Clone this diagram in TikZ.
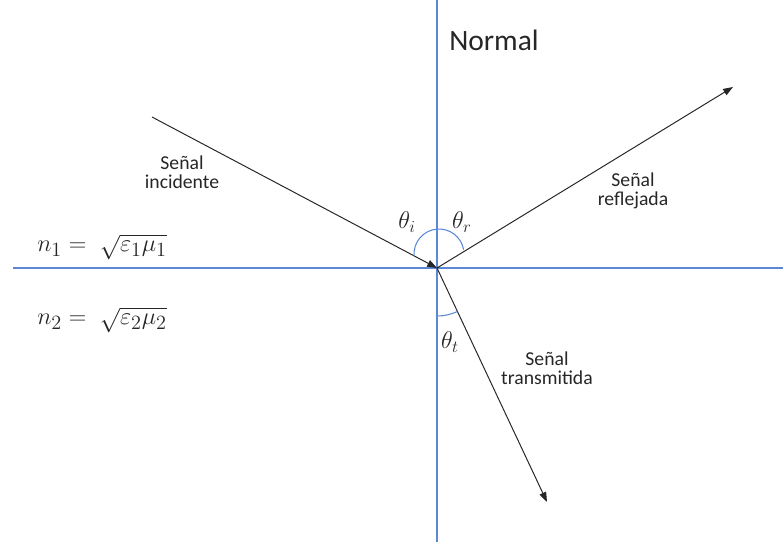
\documentclass[tikz,border=0pt]{standalone}
\usepackage{amsmath}
\usepackage{fontspec}
\setmainfont{Carlito}
\usetikzlibrary{positioning,arrows.meta}
\definecolor{ink}{HTML}{262626}
\definecolor{office}{HTML}{5B87D6}
\tikzset{
  ray/.style={-{Triangle[length=7pt,width=5pt]}, line width=0.7pt, color=ink},
  bnd/.style={line width=0.75pt, color=office},
  ang/.style={line width=0.75pt, color=office},
  lbl/.style={font=\fontsize{14}{13.5}\selectfont, align=center, text=ink, inner sep=0pt},
  th/.style={font=\fontsize{17}{17}\selectfont, text=ink, inner sep=0pt},
  eqn/.style={font=\fontsize{19}{21}\selectfont, text=ink, inner sep=0pt, anchor=west},
}
\begin{document}
\begin{tikzpicture}[x=0.025cm,y=0.025cm]
  \useasboundingbox (0,0) rectangle (783,542);
  % interface and normal
  \coordinate (O) at (437,274);
  \coordinate (nTop) at (437,542);
  \coordinate (nBot) at (437,0);
  \coordinate (hL) at (13,274);
  \coordinate (hR) at (783,274);
  \draw[bnd] (nTop) -- (nBot);
  \draw[bnd] (hL) -- (hR);
  % rays
  \coordinate (inc) at (152,425);
  \coordinate (refl) at (733,455);
  \coordinate (trans) at (547,40);
  \draw[ray] (inc) -- (O);
  \draw[ray] (O) -- (refl);
  \draw[ray] (O) -- (trans);
  % angle marks
  \draw[ang] (439,288) ++(185:25) arc[start angle=185, end angle=10, radius=25];
  \draw[ang] (O) ++(-90:48) arc[start angle=-90, end angle=-65, radius=48];
  % labels
  \node[font=\fontsize{21}{21}\selectfont, text=ink] (normal) at (494,502) {Normal};
  \node[lbl] (tInc) at (182,370) {Señal\\incidente};
  \node[lbl] (tRefl) at (633,351) {Señal\\reflejada};
  \node[lbl] (tTrans) at (547,174) {Señal\\transmitida};
  \node[th] (thI) at (407,320) {$\theta_i$};
  \node[th] (thR) at (462,320) {$\theta_r$};
  \node[th] (thT) at (450,200) {$\theta_t$};
  \node[eqn] (n1) at (37,295) {$n_1 =\; \sqrt{\varepsilon_1\mu_1}$};
  \node[eqn] (n2) at (37,222) {$n_2 =\; \sqrt{\varepsilon_2\mu_2}$};
\end{tikzpicture}
\end{document}
